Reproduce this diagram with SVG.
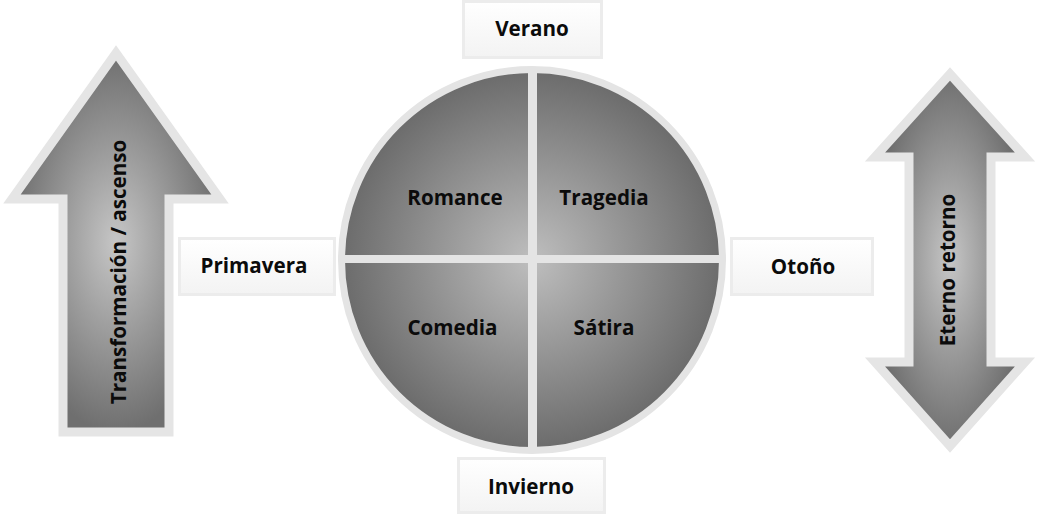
<svg xmlns="http://www.w3.org/2000/svg" width="1040" height="515" viewBox="0 0 1040 515">
<style>
.lbl{font-family:"Open Sans","Liberation Sans",sans-serif;font-weight:700;font-size:20.6px;fill:#0b0b0b;text-anchor:middle;dominant-baseline:central}
.box{fill:url(#boxg);stroke:#ececec;stroke-width:3}
.arrow{fill:url(#arrg);stroke:#e5e5e5;stroke-width:9;stroke-linejoin:miter;stroke-miterlimit:10}
</style>
<defs>
<radialGradient id="arrg" cx="0.5" cy="0.5" r="0.5">
<stop offset="0" stop-color="#c6c6c6"/>
<stop offset="1" stop-color="#6f6f6f"/>
</radialGradient>
<radialGradient id="circg" cx="0.5" cy="0.5" r="0.5">
<stop offset="0" stop-color="#bebebe"/>
<stop offset="1" stop-color="#6b6b6b"/>
</radialGradient>
<linearGradient id="boxg" x1="0" y1="0" x2="0" y2="1">
<stop offset="0" stop-color="#ffffff"/>
<stop offset="1" stop-color="#f3f3f3"/>
</linearGradient>
</defs>
<g id="arrow-left">
<path class="arrow" d="M116,53 L12,199 L63,199 L63,432 L169,432 L169,199 L220,199 Z"/>
<text class="lbl" transform="translate(118,272) rotate(-90)">Transformación / ascenso</text>
</g>
<g id="arrow-right">
<path class="arrow" d="M950,74 L875,157 L909,157 L909,362 L875,362 L950,446 L1025,362 L991,362 L991,157 L1025,157 Z"/>
<text class="lbl" transform="translate(947,270) rotate(-90)">Eterno retorno</text>
</g>
<g id="circle">
<circle cx="532" cy="260" r="190.5" fill="url(#circg)" stroke="#e4e4e4" stroke-width="7"/>
<line x1="532.5" y1="68" x2="532.5" y2="452" stroke="#e4e4e4" stroke-width="9"/>
<line x1="340" y1="259" x2="724" y2="259" stroke="#e4e4e4" stroke-width="8"/>
</g>
<g id="romance"><text class="lbl" x="455" y="197">Romance</text></g>
<g id="tragedia"><text class="lbl" x="604" y="197">Tragedia</text></g>
<g id="comedia"><text class="lbl" x="452.5" y="327">Comedia</text></g>
<g id="satira"><text class="lbl" x="604" y="327">Sátira</text></g>
<g id="verano"><rect class="box" x="463.5" y="1.5" width="138" height="56"/><text class="lbl" x="532" y="28">Verano</text></g>
<g id="primavera"><rect class="box" x="179.5" y="238.5" width="155" height="56"/><text class="lbl" x="254" y="265">Primavera</text></g>
<g id="otono"><rect class="box" x="731.5" y="238.5" width="141" height="56"/><text class="lbl" x="803" y="266">Otoño</text></g>
<g id="invierno"><rect class="box" x="458.5" y="458.5" width="146" height="54"/><text class="lbl" x="531" y="486">Invierno</text></g>
<g id="connectors"></g>
</svg>
